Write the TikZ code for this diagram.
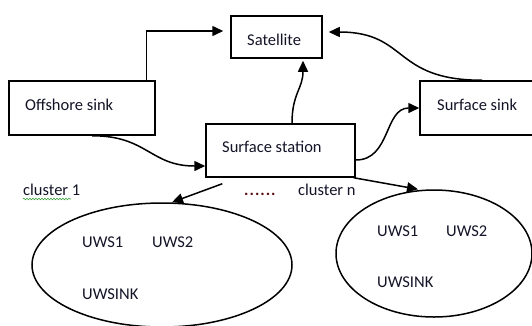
\documentclass[tikz,border=0pt]{standalone}
\usepackage{fontspec}
\setmainfont{Carlito}
\usetikzlibrary{arrows.meta,shapes.geometric,decorations.pathmorphing}
\definecolor{dotred}{RGB}{90,15,15}
\definecolor{squiggle}{RGB}{60,160,60}
\definecolor{ink}{RGB}{20,20,40}
\begin{document}
\begin{tikzpicture}[x=1pt,y=-1pt,
  box/.style={draw, line width=1.5pt, inner sep=0pt},
  cloud/.style={draw, ellipse, line width=1.5pt, inner sep=0pt},
  txt/.style={anchor=base west, inner sep=0pt, text=ink, font=\fontsize{16.5}{20}\selectfont},
  conn/.style={line width=1.5pt, -{Triangle[length=11pt,width=10pt]}}]
\useasboundingbox (0,0) rectangle (532,325);
\fill[white] (0,0) rectangle (532,325);
\clip (0,0) rectangle (532,325);

% boxes
\node[box, minimum width=91pt, minimum height=42pt] (sat) at (276.5,37) {};
\node[box, minimum width=146pt, minimum height=54pt] (off) at (82,108) {};
\node[box, minimum width=149pt, minimum height=53pt] (sta) at (280.5,150.5) {};
\node[box, minimum width=113pt, minimum height=54pt] (sink) at (476.5,108) {};

% clusters
\node[cloud, minimum width=260pt, minimum height=124pt] (c1) at (162,265) {};
\node[cloud, minimum width=196pt, minimum height=127pt] (cn) at (434,253.5) {};

% box labels
\node[txt] (satT) at (247,45) {Satellite};
\node[txt] (offT) at (25,110) {Offshore sink};
\node[txt] (staT) at (222,152) {Surface station};
\node[txt] (sinkT) at (437,110) {Surface sink};

% cluster labels
\node[txt] (c1lab) at (23,195) {cluster 1};
\node[txt, text=dotred, font=\fontsize{16.5}{20}\selectfont\bfseries] (dots) at (244,195)
  {.\kern1pt.\kern1pt.\kern1pt.\kern1pt.\kern1pt.};
\node[txt] (cnlab) at (298,195) {cluster n};
\draw[squiggle, line width=0.6pt, decorate,
      decoration={snake, amplitude=0.8pt, segment length=3pt}]
  ([yshift=-4pt]c1lab.base west) -- ++(48,0);

% stations inside cluster 1
\node[txt] (a1) at (82,247) {UWS1};
\node[txt] (a2) at (152,247) {UWS2};
\node[txt] (as) at (82,299) {UWSINK};
% stations inside cluster n
\node[txt] (b1) at (377,236) {UWS1};
\node[txt] (b2) at (446,236) {UWS2};
\node[txt] (bs) at (377,287) {UWSINK};

% connectors
\draw[conn, shorten >=7pt] ([xshift=138pt]off.north west) |- ([yshift=6pt]sat.west);
\draw[conn] ([xshift=84pt]off.south west)
  .. controls +(55,0) and +(-55,0) .. ([yshift=-15.5pt]sta.west);
\draw[conn, shorten >=2pt] ([xshift=11.5pt]sta.north)
  .. controls +(0,-30) and +(0,30) .. ([xshift=26.5pt]sat.south);
\draw[conn] ([yshift=-9.5pt]sta.east)
  .. controls +(35,0) and +(-35,0) .. (sink.west);
\draw[conn, shorten >=6pt] ([xshift=63pt]sink.north west)
  .. controls +(-90,0) and +(86,0) .. ([yshift=5pt]sat.east);
\draw[conn] ([xshift=17pt,yshift=-6pt]sta.south west) -- ([xshift=10pt]c1.north);
\draw[conn] ([xshift=-2pt]sta.south east) -- ([xshift=-16pt]cn.north);
\end{tikzpicture}
\end{document}
